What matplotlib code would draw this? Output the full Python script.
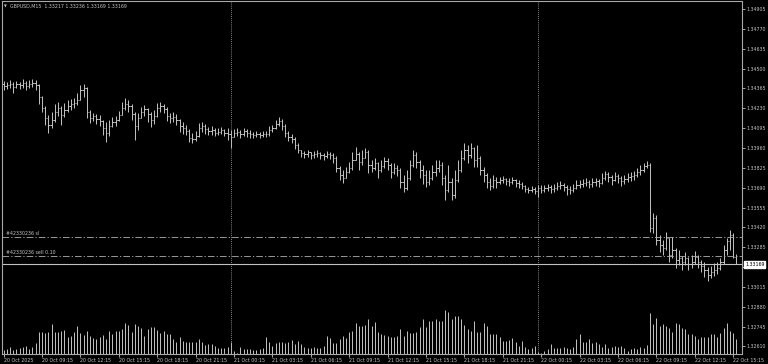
import matplotlib.pyplot as plt
import numpy as np

symbol = "GBPUSD,M15"
last_ohlc = ["1.33217", "1.33236", "1.33169", "1.33169"]
bid = 1.33169
sl_price = 1.33354
sell_price = 1.33228
sl_label = "#42330236 sl"
sell_label = "#42330236 sell 0.10"

opens = [
    1.34395, 1.34381, 1.34388, 1.34395, 1.34374, 1.34395, 1.34388, 1.34402, 1.34381, 1.34395, 1.34402,
    1.34388, 1.34306, 1.34232, 1.34164, 1.34116, 1.34150, 1.34204, 1.34232, 1.34184, 1.34218,
    1.34245, 1.34259, 1.34266, 1.34286, 1.34354, 1.34368, 1.34204, 1.34164, 1.34177, 1.34157,
    1.34143, 1.34096, 1.34062, 1.34109, 1.34136, 1.34150, 1.34184, 1.34232, 1.34259, 1.34245,
    1.34191, 1.34109, 1.34164, 1.34204, 1.34225, 1.34191, 1.34150, 1.34177, 1.34232, 1.34245,
    1.34225, 1.34177, 1.34164, 1.34170, 1.34150, 1.34109, 1.34096, 1.34075, 1.34028, 1.34021,
    1.34041, 1.34096, 1.34109, 1.34089, 1.34075, 1.34082, 1.34062, 1.34068, 1.34082, 1.34062,
    1.34055, 1.34034, 1.34062, 1.34068, 1.34055, 1.34075, 1.34062, 1.34055, 1.34048, 1.34055,
    1.34048, 1.34055, 1.34055, 1.34082, 1.34096, 1.34123, 1.34143, 1.34109, 1.34062, 1.34034,
    1.34021, 1.33980, 1.33946, 1.33926, 1.33919, 1.33932, 1.33912, 1.33919, 1.33926, 1.33912,
    1.33905, 1.33919, 1.33912, 1.33892, 1.33824, 1.33776, 1.33756, 1.33796, 1.33824, 1.33878,
    1.33919, 1.33864, 1.33892, 1.33932, 1.33844, 1.33824, 1.33858, 1.33810, 1.33837, 1.33871,
    1.33844, 1.33796, 1.33824, 1.33810, 1.33728, 1.33688, 1.33756, 1.33844, 1.33912, 1.33864,
    1.33810, 1.33776, 1.33728, 1.33756, 1.33796, 1.33824, 1.33844, 1.33756, 1.33674, 1.33728,
    1.33640, 1.33742, 1.33810, 1.33892, 1.33946, 1.33912, 1.33960, 1.33878, 1.33892, 1.33810,
    1.33776, 1.33728, 1.33701, 1.33742, 1.33728, 1.33742, 1.33749, 1.33735, 1.33728, 1.33742,
    1.33722, 1.33715, 1.33701, 1.33681, 1.33674, 1.33681, 1.33667, 1.33688, 1.33674, 1.33688,
    1.33694, 1.33681, 1.33688, 1.33701, 1.33708, 1.33694, 1.33681, 1.33674, 1.33688, 1.33708,
    1.33715, 1.33722, 1.33728, 1.33715, 1.33728, 1.33735, 1.33722, 1.33756, 1.33783, 1.33762,
    1.33742, 1.33769, 1.33756, 1.33735, 1.33749, 1.33762, 1.33769, 1.33776, 1.33796, 1.33810,
    1.33837, 1.33844, 1.33416, 1.33484, 1.33334, 1.33300, 1.33280, 1.33348, 1.33232, 1.33266,
    1.33198, 1.33212, 1.33184, 1.33212, 1.33171, 1.33184, 1.33218, 1.33184, 1.33157, 1.33130,
    1.33096, 1.33116, 1.33130, 1.33144, 1.33184, 1.33266, 1.33327, 1.33368, 1.33217,
]
highs = [
    1.34415, 1.34408, 1.34422, 1.34408, 1.34415, 1.34408, 1.34429, 1.34415, 1.34422, 1.34429, 1.34422,
    1.34395, 1.34313, 1.34245, 1.34184, 1.34204, 1.34259, 1.34272, 1.34245, 1.34266, 1.34286,
    1.34293, 1.34300, 1.34334, 1.34388, 1.34395, 1.34374, 1.34218, 1.34198, 1.34191, 1.34184,
    1.34150, 1.34136, 1.34150, 1.34170, 1.34177, 1.34211, 1.34272, 1.34300, 1.34286, 1.34259,
    1.34204, 1.34198, 1.34238, 1.34252, 1.34232, 1.34204, 1.34218, 1.34266, 1.34272, 1.34259,
    1.34238, 1.34198, 1.34204, 1.34191, 1.34157, 1.34136, 1.34116, 1.34089, 1.34062, 1.34075,
    1.34130, 1.34136, 1.34123, 1.34102, 1.34109, 1.34096, 1.34096, 1.34102, 1.34089, 1.34096,
    1.34082, 1.34089, 1.34096, 1.34082, 1.34096, 1.34089, 1.34082, 1.34068, 1.34075, 1.34068,
    1.34075, 1.34075, 1.34109, 1.34116, 1.34150, 1.34170, 1.34157, 1.34123, 1.34075, 1.34055,
    1.34034, 1.33994, 1.33946, 1.33939, 1.33946, 1.33932, 1.33939, 1.33946, 1.33932, 1.33926,
    1.33939, 1.33932, 1.33926, 1.33905, 1.33837, 1.33810, 1.33830, 1.33864, 1.33932, 1.33966,
    1.33932, 1.33946, 1.33960, 1.33946, 1.33878, 1.33892, 1.33864, 1.33878, 1.33898, 1.33892,
    1.33858, 1.33858, 1.33844, 1.33824, 1.33776, 1.33810, 1.33878, 1.33946, 1.33932, 1.33878,
    1.33844, 1.33810, 1.33810, 1.33844, 1.33878, 1.33878, 1.33864, 1.33776, 1.33844, 1.33756,
    1.33810, 1.33878, 1.33946, 1.33994, 1.33980, 1.33994, 1.33966, 1.33980, 1.33905, 1.33830,
    1.33790, 1.33756, 1.33776, 1.33762, 1.33762, 1.33769, 1.33756, 1.33756, 1.33762, 1.33749,
    1.33742, 1.33728, 1.33708, 1.33694, 1.33701, 1.33694, 1.33708, 1.33708, 1.33708, 1.33715,
    1.33708, 1.33715, 1.33728, 1.33735, 1.33722, 1.33708, 1.33701, 1.33715, 1.33742, 1.33742,
    1.33749, 1.33756, 1.33742, 1.33756, 1.33756, 1.33749, 1.33790, 1.33803, 1.33796, 1.33776,
    1.33796, 1.33783, 1.33769, 1.33776, 1.33790, 1.33796, 1.33803, 1.33824, 1.33844, 1.33858,
    1.33871, 1.33858, 1.33518, 1.33504, 1.33368, 1.33334, 1.33388, 1.33348, 1.33354, 1.33280,
    1.33266, 1.33225, 1.33252, 1.33218, 1.33232, 1.33259, 1.33232, 1.33198, 1.33184, 1.33150,
    1.33157, 1.33178, 1.33184, 1.33212, 1.33300, 1.33348, 1.33402, 1.33382, 1.33236,
]
lows = [
    1.34354, 1.34361, 1.34368, 1.34334, 1.34368, 1.34361, 1.34368, 1.34354, 1.34368, 1.34374, 1.34354,
    1.34259, 1.34204, 1.34116, 1.34062, 1.34096, 1.34136, 1.34177, 1.34116, 1.34170, 1.34204,
    1.34218, 1.34232, 1.34252, 1.34286, 1.34306, 1.34164, 1.34130, 1.34143, 1.34123, 1.34109,
    1.34048, 1.34000, 1.34041, 1.34102, 1.34109, 1.34143, 1.34184, 1.34218, 1.34204, 1.34150,
    1.34014, 1.34082, 1.34164, 1.34177, 1.34136, 1.34102, 1.34123, 1.34170, 1.34204, 1.34198,
    1.34143, 1.34130, 1.34136, 1.34116, 1.34068, 1.34055, 1.34048, 1.34000, 1.33994, 1.34007,
    1.34034, 1.34068, 1.34055, 1.34048, 1.34048, 1.34041, 1.34048, 1.34055, 1.34041, 1.34014,
    1.33960, 1.34034, 1.34041, 1.34028, 1.34041, 1.34034, 1.34028, 1.34028, 1.34034, 1.34028,
    1.34034, 1.34034, 1.34041, 1.34068, 1.34089, 1.34109, 1.34082, 1.34034, 1.34007, 1.33994,
    1.33953, 1.33926, 1.33898, 1.33892, 1.33898, 1.33885, 1.33892, 1.33898, 1.33885, 1.33878,
    1.33892, 1.33885, 1.33858, 1.33796, 1.33742, 1.33722, 1.33756, 1.33790, 1.33810, 1.33878,
    1.33810, 1.33844, 1.33892, 1.33790, 1.33796, 1.33810, 1.33756, 1.33796, 1.33824, 1.33810,
    1.33756, 1.33783, 1.33769, 1.33688, 1.33660, 1.33674, 1.33742, 1.33830, 1.33824, 1.33756,
    1.33715, 1.33694, 1.33708, 1.33742, 1.33769, 1.33796, 1.33708, 1.33606, 1.33660, 1.33606,
    1.33620, 1.33728, 1.33796, 1.33878, 1.33858, 1.33892, 1.33830, 1.33830, 1.33776, 1.33728,
    1.33688, 1.33674, 1.33688, 1.33688, 1.33715, 1.33722, 1.33708, 1.33701, 1.33715, 1.33694,
    1.33688, 1.33681, 1.33660, 1.33654, 1.33660, 1.33647, 1.33626, 1.33654, 1.33660, 1.33667,
    1.33654, 1.33660, 1.33674, 1.33681, 1.33667, 1.33640, 1.33647, 1.33660, 1.33681, 1.33688,
    1.33694, 1.33701, 1.33688, 1.33694, 1.33701, 1.33694, 1.33715, 1.33742, 1.33728, 1.33708,
    1.33735, 1.33722, 1.33701, 1.33715, 1.33728, 1.33735, 1.33742, 1.33762, 1.33776, 1.33796,
    1.33824, 1.33388, 1.33382, 1.33300, 1.33252, 1.33232, 1.33266, 1.33184, 1.33212, 1.33144,
    1.33164, 1.33130, 1.33164, 1.33130, 1.33144, 1.33171, 1.33144, 1.33116, 1.33082, 1.33055,
    1.33076, 1.33089, 1.33103, 1.33130, 1.33171, 1.33232, 1.33266, 1.33212, 1.33169,
]
closes = [
    1.34381, 1.34388, 1.34395, 1.34374, 1.34395, 1.34388, 1.34402, 1.34381, 1.34395, 1.34402, 1.34388,
    1.34306, 1.34232, 1.34164, 1.34116, 1.34150, 1.34204, 1.34232, 1.34184, 1.34218, 1.34245,
    1.34259, 1.34266, 1.34286, 1.34354, 1.34368, 1.34204, 1.34164, 1.34177, 1.34157, 1.34143,
    1.34096, 1.34062, 1.34109, 1.34136, 1.34150, 1.34184, 1.34232, 1.34259, 1.34245, 1.34191,
    1.34109, 1.34164, 1.34204, 1.34225, 1.34191, 1.34150, 1.34177, 1.34232, 1.34245, 1.34225,
    1.34177, 1.34164, 1.34170, 1.34150, 1.34109, 1.34096, 1.34075, 1.34028, 1.34021, 1.34041,
    1.34096, 1.34109, 1.34089, 1.34075, 1.34082, 1.34062, 1.34068, 1.34082, 1.34062, 1.34055,
    1.34034, 1.34062, 1.34068, 1.34055, 1.34075, 1.34062, 1.34055, 1.34048, 1.34055, 1.34048,
    1.34055, 1.34055, 1.34082, 1.34096, 1.34123, 1.34143, 1.34109, 1.34062, 1.34034, 1.34021,
    1.33980, 1.33946, 1.33926, 1.33919, 1.33932, 1.33912, 1.33919, 1.33926, 1.33912, 1.33905,
    1.33919, 1.33912, 1.33892, 1.33824, 1.33776, 1.33756, 1.33796, 1.33824, 1.33878, 1.33919,
    1.33864, 1.33892, 1.33932, 1.33844, 1.33824, 1.33858, 1.33810, 1.33837, 1.33871, 1.33844,
    1.33796, 1.33824, 1.33810, 1.33728, 1.33688, 1.33756, 1.33844, 1.33912, 1.33864, 1.33810,
    1.33776, 1.33728, 1.33756, 1.33796, 1.33824, 1.33844, 1.33756, 1.33674, 1.33728, 1.33640,
    1.33742, 1.33810, 1.33892, 1.33946, 1.33912, 1.33960, 1.33878, 1.33892, 1.33810, 1.33776,
    1.33728, 1.33701, 1.33742, 1.33728, 1.33742, 1.33749, 1.33735, 1.33728, 1.33742, 1.33722,
    1.33715, 1.33701, 1.33681, 1.33674, 1.33681, 1.33667, 1.33688, 1.33674, 1.33688, 1.33694,
    1.33681, 1.33688, 1.33701, 1.33708, 1.33694, 1.33681, 1.33674, 1.33688, 1.33708, 1.33715,
    1.33722, 1.33728, 1.33715, 1.33728, 1.33735, 1.33722, 1.33756, 1.33783, 1.33762, 1.33742,
    1.33769, 1.33756, 1.33735, 1.33749, 1.33762, 1.33769, 1.33776, 1.33796, 1.33810, 1.33837,
    1.33844, 1.33416, 1.33484, 1.33334, 1.33300, 1.33280, 1.33348, 1.33232, 1.33266, 1.33198,
    1.33212, 1.33184, 1.33212, 1.33171, 1.33184, 1.33218, 1.33184, 1.33157, 1.33130, 1.33096,
    1.33116, 1.33130, 1.33144, 1.33184, 1.33266, 1.33327, 1.33368, 1.33217, 1.33169,
]
volumes = [
    12, 14, 22, 12, 14, 19, 22, 24, 15, 20, 32,
    67, 65, 64, 67, 90, 67, 67, 69, 72, 52,
    55, 67, 84, 64, 57, 69, 54, 49, 45, 50,
    57, 45, 69, 60, 70, 69, 74, 93, 87, 67,
    89, 84, 79, 55, 74, 80, 80, 72, 62, 70,
    59, 60, 44, 37, 51, 39, 37, 37, 37, 36,
    44, 36, 27, 31, 31, 24, 17, 17, 19, 22,
    35, 10, 4, 21, 16, 14, 14, 12, 12, 14,
    17, 50, 37, 24, 34, 37, 35, 34, 37, 41,
    31, 38, 29, 22, 19, 17, 20, 19, 19, 24,
    54, 49, 34, 32, 45, 54, 49, 65, 70, 94,
    84, 85, 87, 105, 84, 97, 65, 60, 58,
    55, 52, 52, 54, 74, 55, 70, 62, 64, 65,
    82, 105, 80, 100, 99, 104, 100, 99, 132, 125,
    105, 115, 115, 105, 87, 75, 70, 100, 65, 65,
    92, 84, 60, 59, 59, 50, 40, 40, 42, 47,
    37, 25, 40, 20, 15, 19, 25, 7, 4, 10,
    15, 30, 17, 17, 19, 22, 19, 15, 22, 45,
    60, 37, 37, 45, 34, 35, 29, 22, 30, 19,
    22, 25, 22, 24, 17, 10, 14, 17, 15, 20,
    17, 27, 122, 90, 107, 84, 90, 84, 77, 65,
    92, 90, 77, 74, 60, 59, 55, 45, 52, 50,
    52, 60, 59, 52, 62, 79, 94, 70, 62, 45,
]

price_ticks = [1.34905, 1.34770, 1.34635, 1.34500, 1.34365, 1.34230, 1.34095, 1.33960,
               1.33825, 1.33690, 1.33555, 1.33420, 1.33285, 1.33150, 1.33015, 1.32880,
               1.32745, 1.32610]
time_labels = ["20 Oct 2025", "20 Oct 09:15", "20 Oct 12:15", "20 Oct 15:15", "20 Oct 18:15",
               "20 Oct 21:15", "21 Oct 00:15", "21 Oct 03:15", "21 Oct 06:15", "21 Oct 09:15",
               "21 Oct 12:15", "21 Oct 15:15", "21 Oct 18:15", "21 Oct 21:15", "22 Oct 00:15",
               "22 Oct 03:15", "22 Oct 06:15", "22 Oct 09:15", "22 Oct 12:15", "22 Oct 15:15"]
label_step = 12          # one label every 12 bars (3 hours)
day_starts = [71, 167]   # first bar of 21 Oct and 22 Oct

fg = '#c4c4c4'
fs = 3.4
x = np.arange(len(closes))

fig = plt.figure(figsize=(7.68, 3.64), dpi=100, facecolor='black')
pos = [2/768, 10/364, 740/768, 353/364]

# volumes live in their own axes behind the price bars
vax = fig.add_axes(pos, zorder=0)
vax.set_facecolor('black')
vax.vlines(x, 0, volumes, colors=fg, lw=0.7)
vax.set_xlim(-0.47, 230.78)
vax.set_ylim(0, 1059)
vax.axis('off')

ax = fig.add_axes(pos, zorder=1)
ax.patch.set_alpha(0)
ax.vlines(x, lows, highs, colors=fg, lw=0.7)
ax.hlines(opens, x - 0.4, x, colors=fg, lw=0.7)
ax.hlines(closes, x, x + 0.4, colors=fg, lw=0.7)

ax.set_xlim(-0.47, 230.78)
ax.set_ylim(1.32559, 1.34959)

for d in day_starts:
    ax.axvline(d, color='#b0b0b0', lw=0.6, ls=(0, (1, 1.5)))

ax.axhline(sl_price, color='#b0b0b0', lw=0.6, ls=(0, (8, 2.5, 1.5, 2.5)))
ax.axhline(sell_price, color='#b0b0b0', lw=0.6, ls=(0, (8, 2.5, 1.5, 2.5)))
ax.axhline(bid, color='#c0c0c0', lw=0.8)
ax.text(0.8, sl_price + 0.00004, sl_label, color=fg, fontsize=fs, va='bottom', ha='left')
ax.text(0.8, sell_price + 0.00004, sell_label, color=fg, fontsize=fs, va='bottom', ha='left')

ax.yaxis.tick_right()
ax.set_yticks(price_ticks)
ax.set_yticklabels([f'{p:.5f}' for p in price_ticks])
ax.set_xticks(x[::label_step][:len(time_labels)])
ax.set_xticklabels(time_labels, ha='left')
ax.tick_params(axis='both', colors=fg, labelcolor=fg, labelsize=fs, length=2, width=0.6, pad=1)
for s in ax.spines.values():
    s.set_color('#a8a8a8')
    s.set_linewidth(0.8)

# current bid price tag on the right scale
ax.text(1.004, bid, f'{bid:.5f}', transform=ax.get_yaxis_transform(), fontsize=fs,
        color='black', va='center', ha='left', zorder=5,
        bbox=dict(boxstyle='square,pad=0.2', fc='white', ec='white'))

fig.text(4/768, 1 - 6/364, '\u25bc', color=fg, fontsize=2.6, va='center')
fig.text(10/768, 1 - 6/364, symbol + '  ' + ' '.join(last_ohlc), color=fg, fontsize=fs, va='center')

fig.savefig('out.png', dpi=100, facecolor='black')
